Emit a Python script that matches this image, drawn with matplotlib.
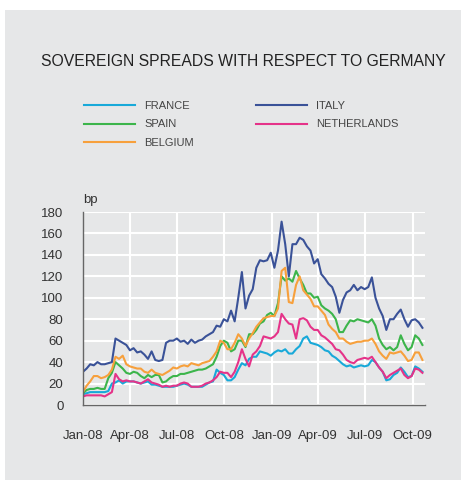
import numpy as np
import pandas as pd
import matplotlib
matplotlib.use("Agg")
import matplotlib.pyplot as plt
from matplotlib.patches import Rectangle

plt.rcParams['font.family'] = ['Liberation Sans', 'DejaVu Sans']

# weekly observations, Jan 2008 - Oct 2009 (bp)
dates = pd.date_range('2008-01-01', periods=95, freq='7D')

france = [10, 11, 12, 12, 12, 12, 12, 13, 20, 21,
          23, 20, 22, 22, 22, 21, 20, 21, 22, 19,
          19, 18, 17, 17, 17, 17, 18, 19, 20, 19,
          17, 17, 17, 17, 19, 21, 22, 33, 30, 28,
          23, 23, 26, 33, 39, 37, 43, 45, 45, 50,
          49, 48, 46, 49, 51, 50, 52, 48, 48, 52,
          55, 62, 64, 58, 57, 56, 54, 51, 50, 46,
          44, 41, 38, 36, 37, 35, 36, 37, 36, 37,
          42, 40, 35, 31, 23, 24, 28, 30, 35, 31,
          26, 27, 36, 34, 31]

italy = [31, 34, 38, 37, 40, 38, 38, 39, 40, 62,
         60, 58, 56, 51, 53, 49, 50, 47, 43, 50,
         42, 41, 42, 58, 60, 60, 62, 59, 60, 57,
         61, 58, 60, 61, 64, 66, 68, 74, 73, 80,
         78, 88, 78, 100, 124, 90, 102, 108, 128, 135,
         134, 135, 142, 128, 144, 171, 150, 120, 150, 150,
         156, 154, 148, 144, 132, 136, 122, 118, 113, 110,
         101, 86, 98, 105, 107, 112, 107, 110, 108, 110,
         119, 100, 90, 83, 70, 80, 80, 85, 89, 80,
         73, 79, 80, 77, 72]

spain = [11, 14, 15, 15, 16, 15, 15, 25, 30, 40,
         37, 34, 30, 29, 31, 30, 27, 25, 28, 26,
         28, 28, 21, 22, 25, 27, 27, 29, 29, 30,
         31, 32, 33, 33, 34, 36, 38, 45, 55, 60,
         58, 50, 52, 60, 60, 54, 66, 66, 70, 76,
         78, 84, 86, 83, 95, 120, 116, 118, 115, 125,
         118, 112, 104, 104, 100, 101, 93, 90, 88, 85,
         80, 68, 68, 74, 79, 78, 80, 79, 78, 77,
         80, 74, 62, 56, 52, 54, 51, 54, 65, 57,
         51, 54, 65, 62, 56]

netherlands = [8, 9, 9, 9, 9, 9, 8, 10, 12, 29,
               24, 22, 23, 22, 22, 21, 20, 22, 24, 21,
               20, 19, 17, 18, 17, 18, 18, 20, 21, 20,
               17, 17, 17, 18, 20, 21, 23, 26, 31, 30,
               30, 26, 31, 40, 52, 43, 36, 47, 50, 55,
               64, 63, 62, 64, 68, 85, 80, 76, 75, 62,
               80, 81, 79, 73, 70, 70, 65, 63, 60, 57,
               52, 51, 47, 42, 40, 39, 42, 43, 44, 43,
               45, 40, 35, 31, 25, 28, 30, 32, 34, 28,
               25, 27, 34, 33, 30]

belgium = [12, 18, 22, 27, 27, 25, 26, 28, 33, 45,
           43, 46, 38, 36, 35, 34, 34, 31, 30, 33,
           30, 29, 28, 30, 32, 35, 34, 36, 37, 36,
           39, 38, 37, 39, 40, 41, 45, 50, 60, 58,
           52, 52, 58, 66, 62, 55, 62, 67, 73, 77,
           81, 82, 83, 83, 90, 125, 128, 96, 95, 112,
           120, 107, 103, 99, 92, 92, 88, 84, 75, 71,
           68, 62, 62, 59, 57, 58, 59, 59, 60, 60,
           62, 57, 50, 46, 43, 49, 48, 49, 50, 46,
           41, 42, 49, 49, 42]

tick_dates = pd.to_datetime(['2008-01-01', '2008-04-01', '2008-07-01', '2008-10-01',
                             '2009-01-01', '2009-04-01', '2009-07-01', '2009-10-01'])
tick_labels = ['Jan-08', 'Apr-08', 'Jul-08', 'Oct-08', 'Jan-09', 'Apr-09', 'Jul-09', 'Oct-09']

bg = '#e6e7e8'
fig = plt.figure(figsize=(4.66, 4.86), dpi=100)
fig.patch.set_facecolor('white')
fig.patches.append(Rectangle((5 / 466, 1 - 480 / 486), 456 / 466, 470 / 486,
                             transform=fig.transFigure, facecolor=bg,
                             edgecolor='none', zorder=-10))

ax = fig.add_axes([83 / 466, 1 - 405 / 486, 342 / 466, 193 / 486])
ax.set_facecolor(bg)

ax.plot(dates, france, color='#18a9d9', lw=1.5, label='FRANCE')
ax.plot(dates, spain, color='#3cb54b', lw=1.5, label='SPAIN')
ax.plot(dates, belgium, color='#f7a03c', lw=1.5, label='BELGIUM')
ax.plot(dates, italy, color='#3a5298', lw=1.5, label='ITALY')
ax.plot(dates, netherlands, color='#e53389', lw=1.5, label='NETHERLANDS')

ax.set_xlim(pd.Timestamp('2008-01-01'), pd.Timestamp('2009-10-25'))
ax.set_ylim(0, 180)
ax.set_yticks(np.arange(0, 181, 20))
ax.set_xticks(tick_dates)
ax.set_xticklabels(tick_labels)
ax.grid(True, color='white', lw=1.5)
ax.set_axisbelow(True)
ax.tick_params(axis='both', length=0, labelsize=9.5, colors='#333333')
ax.tick_params(axis='x', pad=18)
ax.tick_params(axis='y', pad=14)
for s in ['top', 'right']:
    ax.spines[s].set_visible(False)
for s in ['left', 'bottom']:
    ax.spines[s].set_color('#666666')
    ax.spines[s].set_linewidth(1.0)

ax.text(0, 1.03, 'bp', transform=ax.transAxes, fontsize=9.5, color='#333333',
        ha='left', va='bottom')

fig.text(0.522, 1 - 61 / 486, 'SOVEREIGN SPREADS WITH RESPECT TO GERMANY',
         ha='center', va='center', fontsize=11.3, color='#222222')

leg = fig.legend(*ax.get_legend_handles_labels(), ncol=2, loc='upper left',
                 bbox_to_anchor=(84 / 466, 1 - 101 / 486), borderpad=0,
                 borderaxespad=0, frameon=False, fontsize=8, handlelength=4.6,
                 handletextpad=0.8, columnspacing=5.6, labelspacing=0.76)
for t in leg.get_texts():
    t.set_color('#444444')

fig.savefig('out.png', dpi=100, facecolor='white')
